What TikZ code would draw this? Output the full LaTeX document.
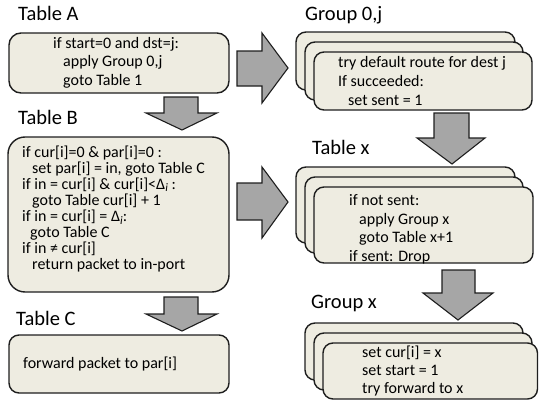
\documentclass[tikz,border=0pt]{standalone}
\usepackage{fontspec}
\setmainfont{Carlito}
\definecolor{boxfill}{HTML}{EEECE1}
\definecolor{arrowgray}{HTML}{A6A6A6}
\definecolor{edge}{HTML}{1E1E1E}
\newcommand{\dlti}{Δ\raisebox{-2.5pt}{\fontsize{11.5}{12}\selectfont\itshape i}}
\begin{document}
\begin{tikzpicture}[x=1pt,y=-1pt,
  box/.style={draw=edge, line width=1.4pt, fill=boxfill, rounded corners=10pt},
  barrow/.style={draw=edge, line width=1.1pt, fill=arrowgray, line join=miter},
  ttl/.style={anchor=base west, inner sep=0pt, font=\fontsize{20.5}{24}\selectfont},
  txt/.style={anchor=base west, inner sep=0pt, font=\fontsize{16}{19}\selectfont}]
\useasboundingbox (0,0) rectangle (539,407);

% ---------- left column ----------
\node[ttl] (tA) at (18,20) {Table A};
\draw[box, rounded corners=12pt] (9,33) rectangle (229,93);
\node[txt] (a1) at (53,48) {if start=0 and dst=j:};
\node[txt] (a2) at (63,66.5) {apply Group 0,j};
\node[txt] (a3) at (63,85) {goto Table 1};

\draw[barrow] (164,97) -- (198,97) -- (198,113) -- (217,113) -- (182,130) -- (146,113) -- (164,113) -- cycle;

\node[ttl] (tB) at (18,124) {Table B};
\draw[box, rounded corners=17pt] (8,137) rectangle (229,292);
\node[txt] (b1) at (22,157) {if cur[i]=0 \& par[i]=0 :};
\node[txt] (b2) at (32,173) {set par[i] = in, goto Table C};
\node[txt] (b3) at (22,189) {if in = cur[i] \& cur[i]<\dlti\ :};
\node[txt] (b4) at (32,205) {goto Table cur[i] + 1};
\node[txt] (b5) at (22,221.5) {if in = cur[i] = \dlti:};
\node[txt] (b6) at (30,237) {goto Table C};
\node[txt] (b7) at (22,253) {if in ≠ cur[i]};
\node[txt] (b8) at (32,269) {return packet to in-port};

\draw[barrow] (164,297) -- (198,297) -- (198,314) -- (217,314) -- (182,331) -- (146,314) -- (164,314) -- cycle;

\node[ttl] (tC) at (16,325) {Table C};
\draw[box] (9,335) rectangle (229,393);
\node[txt] (c1) at (23,368) {forward packet to par[i]};

% ---------- horizontal arrows ----------
\draw[barrow] (237,51) -- (262,51) -- (262,33) -- (288,68) -- (262,103) -- (262,86) -- (237,86) -- cycle;
\draw[barrow] (237,183) -- (262,183) -- (262,167) -- (288,202) -- (262,238) -- (262,220) -- (237,220) -- cycle;

% ---------- right column ----------
\node[ttl] (tG) at (305,20) {Group 0,j};
\draw[box] (296,32) rectangle (515,90);
\draw[box] (305,42) rectangle (523,100);
\draw[box] (314,52) rectangle (532,110);
\node[txt] (g1) at (338,67) {try default route for dest j};
\node[txt] (g2) at (338,86) {If succeeded:};
\node[txt] (g3) at (348,105) {set sent = 1};

\draw[barrow] (434,113) -- (469,113) -- (469,138) -- (485,138) -- (452,164) -- (417,138) -- (434,138) -- cycle;

\node[ttl] (tX) at (312,154) {Table x};
\draw[box] (296,167) rectangle (515,243);
\draw[box] (305,177) rectangle (523,253);
\draw[box] (314,187) rectangle (533,263);
\node[txt] (x1) at (349,205) {if not sent:};
\node[txt] (x2) at (359,224) {apply Group x};
\node[txt] (x3) at (359,242) {goto Table x+1};
\node[txt] (x4) at (349,261) {if sent: Drop};

\draw[barrow] (442,270) -- (475,270) -- (475,293) -- (493,293) -- (458,320) -- (423,293) -- (442,293) -- cycle;

\node[ttl] (tGx) at (311,308) {Group x};
\draw[box] (305,323) rectangle (523,380);
\draw[box] (314,333) rectangle (532,390);
\draw[box] (323,343) rectangle (537.5,399);
\node[txt] (y1) at (362,357) {set cur[i] = x};
\node[txt] (y2) at (362,375) {set start = 1};
\node[txt] (y3) at (362,393) {try forward to x};
\end{tikzpicture}
\end{document}
